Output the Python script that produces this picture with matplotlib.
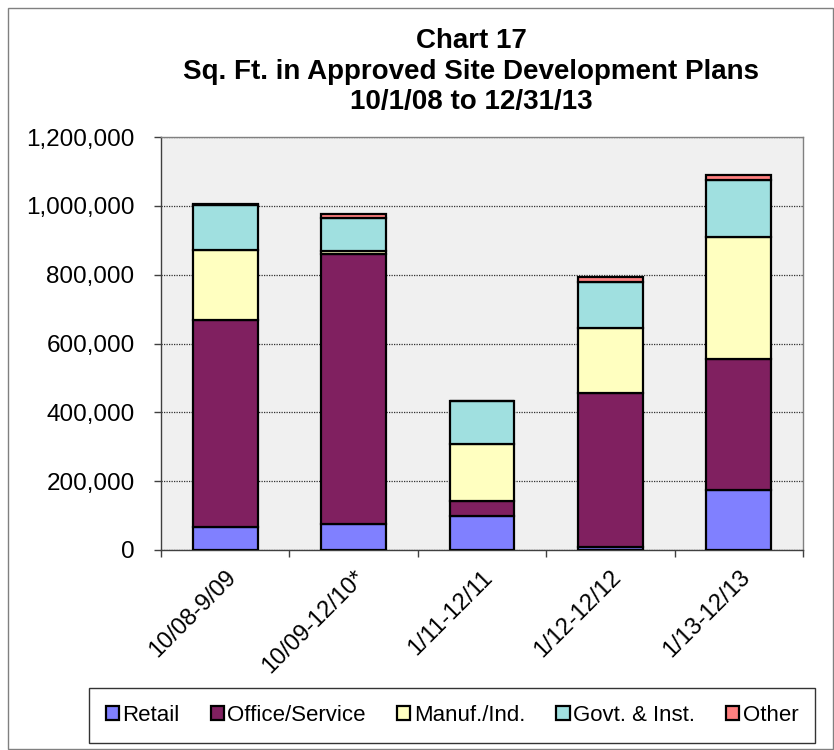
import matplotlib
matplotlib.use("Agg")
import matplotlib.pyplot as plt
import numpy as np
from matplotlib.ticker import FuncFormatter, MultipleLocator, FixedLocator
from matplotlib.patches import Rectangle

plt.rcParams['font.family'] = ['Liberation Sans', 'DejaVu Sans']

periods = ["10/08-9/09", "10/09-12/10*", "1/11-12/11", "1/12-12/12", "1/13-12/13"]
retail = [67000, 76000, 99000, 10000, 174000]
office = [600000, 784000, 43000, 445000, 381000]
manuf = [206000, 10000, 167000, 189000, 354000]
govt = [130000, 95000, 125000, 135000, 165000]
other = [3000, 12000, 0, 14000, 16000]

series = [
    ("Retail", retail, "#8080FF"),
    ("Office/Service", office, "#802060"),
    ("Manuf./Ind.", manuf, "#FFFFC0"),
    ("Govt. & Inst.", govt, "#A0E0E0"),
    ("Other", other, "#FF8080"),
]

fig = plt.figure(figsize=(8.34, 7.5), dpi=100)
fig.patches.append(Rectangle((0.009, 0.002), 0.99, 0.987, transform=fig.transFigure,
                             fill=False, edgecolor="#808080", linewidth=1.0))

ax = fig.add_axes([0.1930, 0.2667, 0.7698, 0.5506])
ax.set_facecolor("#F0F0F0")

x = np.arange(len(periods))
bottom = np.zeros(len(periods))
handles = []
for name, vals, color in series:
    vals = np.array(vals, dtype=float)
    h = ax.bar(x, vals, width=0.505, bottom=bottom, color=color,
               edgecolor="black", linewidth=1.6, label=name, zorder=3)
    handles.append(h)
    bottom += vals

ax.set_xlim(-0.5, len(periods) - 0.5)
ax.set_ylim(0, 1200000)
ax.yaxis.set_major_locator(MultipleLocator(200000))
ax.yaxis.set_major_formatter(FuncFormatter(lambda v, p: f"{int(v):,}"))
ax.grid(axis="y", color="#303030", linestyle=(0, (1, 1)), linewidth=0.9, zorder=1)

ax.set_xticks(x)
ax.set_xticklabels(periods, rotation=45, ha="right", rotation_mode="anchor", fontsize=17)
ax.tick_params(axis="x", which="major", length=0, pad=12)
ax.xaxis.set_minor_locator(FixedLocator(np.arange(-0.5, len(periods), 1.0)))
ax.tick_params(axis="x", which="minor", length=5, width=1, color="#404040")
ax.tick_params(axis="y", labelsize=17.5, length=5, width=1, color="#404040", pad=14)

for side, sp in ax.spines.items():
    sp.set_color("#808080")
    sp.set_linewidth(1.0)
ax.spines["left"].set_color("#404040")
ax.spines["bottom"].set_color("#404040")

fig.text(0.565, 0.962, "Chart 17\nSq. Ft. in Approved Site Development Plans\n10/1/08 to 12/31/13",
         ha="center", va="top", fontsize=20, fontweight="bold", linespacing=1.22)

leg = fig.legend(handles=handles, loc="center", bbox_to_anchor=(0.542, 0.046),
                 ncol=5, fontsize=16, frameon=True, fancybox=False,
                 handlelength=0.6, handleheight=0.6, handletextpad=0.15,
                 columnspacing=1.4, borderpad=0.75)
leg.get_frame().set_edgecolor("black")
leg.get_frame().set_linewidth(1.0)

fig.savefig("out.png", dpi=100, facecolor="white")
